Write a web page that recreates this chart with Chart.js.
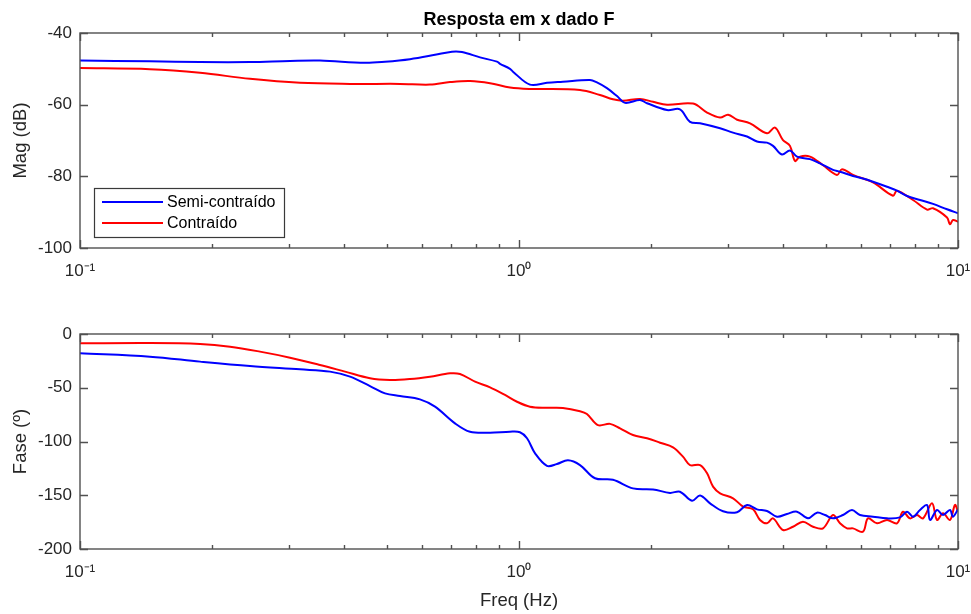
<!DOCTYPE html>
<html>
<head>
<meta charset="utf-8">
<script src="https://cdn.jsdelivr.net/npm/chart.js@4"></script>
<style>
  html, body { margin: 0; padding: 0; background: #fff; }
  #wrap { position: relative; width: 971px; height: 614px; }
  .box { position: absolute; left: 0; width: 971px; }
</style>
</head>
<body>
<div id="wrap">
  <div class="box" style="top:0;height:300px"><canvas id="magChart"></canvas></div>
  <div class="box" style="top:300px;height:314px"><canvas id="phaseChart"></canvas></div>
</div>
<script>
// Labels
const titleText = 'Resposta em x dado F';
const seriesNames = ['Semi-contraído', 'Contraído'];
const decadeLabels = { '-1': '10⁻¹', '0': '10⁰', '1': '10¹' };

// Magnitude, semi-contraído (Hz, dB)
const magSemiFreq = [0.1, 0.1443, 0.1877, 0.2439, 0.3009, 0.3521, 0.4459, 0.4952, 0.5645, 0.6437,
  0.7036, 0.7416, 0.8152, 0.891, 0.9052, 0.9539, 0.969, 1.059, 1.158, 1.259, 1.451, 1.505, 1.586,
  1.672, 1.744, 1.886, 1.957, 2.174, 2.326, 2.452, 2.585, 2.871, 3.073, 3.307, 3.484, 3.672, 3.79,
  3.972, 4.142, 4.297, 4.601, 4.849, 5.191, 5.385, 5.765, 6.075, 6.403, 6.891, 7.262, 7.653, 8.193,
  8.772, 9.44, 10];
const magSemi = [-47.7, -47.9, -48.1, -48.1, -47.8, -47.7, -48.3, -48.0, -47.3, -46.1,
  -45.2, -45.3, -46.8, -48.0, -48.6, -50.0, -50.8, -54.4, -53.9, -53.6, -53.1, -53.8, -55.4,
  -57.6, -59.5, -58.7, -59.6, -61.5, -61.3, -64.8, -65.2, -66.6, -67.8, -68.9, -70.3, -70.6, -71.5,
  -73.9, -72.8, -74.5, -75.2, -76.4, -78.2, -78.7, -79.9, -80.6, -81.5, -82.9, -84.0, -85.5, -86.6,
  -87.7, -89.2, -90.3];

// Magnitude, contraído (Hz, dB)
const magConFreq = [0.1, 0.1443, 0.1877, 0.2439, 0.3171, 0.4122, 0.5357, 0.6269, 0.6963, 0.7735,
  0.8591, 0.9539, 1.059, 1.377, 1.529, 1.637, 1.725, 1.886, 2.02, 2.174, 2.491, 2.682, 2.871, 2.994,
  3.139, 3.36, 3.672, 3.83, 3.993, 4.142, 4.252, 4.365, 4.601, 4.926, 5.301, 5.442, 5.765, 6.403,
  7.111, 7.262, 7.898, 8.5, 8.772, 9.44, 9.589, 9.741, 10];
const magCon = [-49.8, -50.1, -51.1, -52.8, -53.9, -54.2, -54.2, -54.4, -53.7, -53.4,
  -54.0, -55.2, -55.6, -55.9, -57.3, -58.5, -58.9, -58.4, -59.2, -60.0, -59.7, -62.2, -63.6, -62.8,
  -64.2, -65.2, -68.0, -66.4, -69.9, -71.5, -75.7, -74.5, -74.5, -76.9, -79.6, -78.0, -79.6, -81.7,
  -85.4, -84.0, -86.6, -89.3, -88.9, -91.5, -93.4, -92.2, -92.7];

// Phase, semi-contraído (Hz, degrees)
const phaseSemiFreq = [0.1, 0.1443, 0.1877, 0.2439, 0.3171, 0.3711, 0.4122, 0.4577, 0.4952, 0.5357,
  0.5949, 0.6437, 0.7148, 0.7735, 0.8591, 0.9539, 1.005, 1.043, 1.088, 1.158, 1.22, 1.293, 1.377,
  1.49, 1.637, 1.818, 2.02, 2.208, 2.326, 2.478, 2.585, 2.724, 2.916, 3.139, 3.307, 3.484, 3.672,
  3.87, 4.077, 4.297, 4.553, 4.773, 4.978, 5.191, 5.47, 5.735, 5.981, 6.403, 6.891, 7.377, 7.653,
  7.898, 8.193, 8.5, 8.635, 8.958, 9.244, 9.589, 9.741, 10];
const phaseSemi = [-18.0, -21.1, -25.7, -29.8, -32.9, -35.0, -39.7, -48.4, -55.2, -57.7,
  -60.8, -67.6, -83.1, -90.9, -91.8, -90.9, -91.4, -97.0, -111.0, -122.6, -120.9, -117.5, -121.9,
  -134.2, -135.6, -143.6, -144.6, -147.8, -146.7, -155.1, -150.2, -157.5, -164.9, -165.8, -159.1, -163.1, -164.7,
  -169.9, -167.4, -165.3, -171.5, -166.2, -168.4, -171.5, -168.4, -163.7, -168.4, -169.9, -171.5, -170.6, -165.3,
  -169.9, -163.7, -159.1, -173.0, -163.7, -168.4, -163.7, -169.9, -163.1];

// Phase, contraído (Hz, degrees)
const phaseConFreq = [0.1, 0.1443, 0.1877, 0.2197, 0.257, 0.3009, 0.3521, 0.4015, 0.4577, 0.5083,
  0.5645, 0.6269, 0.6963, 0.7338, 0.7943, 0.8591, 0.9292, 0.9896, 1.059, 1.158, 1.259, 1.377, 1.428,
  1.513, 1.612, 1.699, 1.818, 1.957, 2.096, 2.243, 2.363, 2.452, 2.585, 2.682, 2.767, 2.871, 3.073,
  3.239, 3.413, 3.54, 3.672, 3.79, 3.993, 4.208, 4.435, 4.674, 4.926, 5.191, 5.385, 5.586, 5.765,
  6.075, 6.237, 6.539, 6.891, 7.262, 7.494, 7.774, 8.066, 8.323, 8.726, 8.958, 9.244, 9.589, 9.844, 10];
const phaseCon = [-8.7, -8.4, -9.3, -11.8, -16.4, -22.0, -28.8, -35.0, -41.2, -42.8,
  -41.9, -39.7, -36.6, -37.2, -44.3, -49.6, -56.7, -63.0, -67.6, -68.6, -68.8, -71.8, -74.4,
  -84.7, -83.6, -87.7, -94.0, -97.0, -101.1, -105.4, -114.1, -121.9, -121.9, -129.6, -142.0, -148.2, -152.8,
  -160.6, -163.1, -173.0, -176.1, -171.5, -182.3, -179.3, -174.6, -179.3, -180.8, -168.4, -176.1, -180.8, -180.8,
  -183.9, -171.5, -176.1, -173.0, -176.1, -165.3, -171.5, -168.4, -171.5, -157.5, -173.0, -166.8, -173.0, -159.1, -165.3];

// Axis ranges and ticks
const freqRange = [0.1, 10];
const magRange = [-100, -40];
const magStep = 20;
const phaseRange = [-200, 0];
const phaseStep = 50;

const FONT = "'Liberation Sans', Arial, Helvetica, sans-serif";
const TEXT = '#262626';
const AXIS = '#505050';

function toPoints(xs, ys) {
  return xs.map((x, i) => ({ x: x, y: ys[i] }));
}

// MATLAB-like box with inward ticks on all four sides, plus the legend
const matlabAxes = {
  id: 'matlabAxes',
  afterDatasetsDraw(chart, args, opts) {
    const { ctx, chartArea: a, scales: { x, y } } = chart;
    ctx.save();
    ctx.strokeStyle = AXIS;
    ctx.lineWidth = 1.4;
    ctx.beginPath();
    for (let d = 0.1; d < 10; d *= 10) {
      for (let k = 1; k <= 10; k++) {
        const v = d * k;
        if (v < freqRange[0] - 1e-9 || v > freqRange[1] + 1e-9) continue;
        const px = Math.round(x.getPixelForValue(v)) + 0.5;
        const len = (k === 1 || k === 10) ? 8 : 4;
        ctx.moveTo(px, a.bottom); ctx.lineTo(px, a.bottom - len);
        ctx.moveTo(px, a.top); ctx.lineTo(px, a.top + len);
      }
    }
    y.ticks.forEach(t => {
      const py = Math.round(y.getPixelForValue(t.value)) + 0.5;
      ctx.moveTo(a.left, py); ctx.lineTo(a.left + 8, py);
      ctx.moveTo(a.right, py); ctx.lineTo(a.right - 8, py);
    });
    ctx.stroke();
    ctx.strokeRect(a.left, a.top, a.width, a.height);

    if (opts.legend) {
      const bx = a.left + 14, by = a.bottom - 60, bw = 190, bh = 49;
      ctx.fillStyle = '#fff';
      ctx.fillRect(bx, by, bw, bh);
      ctx.strokeStyle = '#3a3a3a';
      ctx.lineWidth = 1.2;
      ctx.strokeRect(bx + 0.5, by + 0.5, bw, bh);
      ctx.font = '16px ' + FONT;
      ctx.textBaseline = 'middle';
      chart.data.datasets.forEach((ds, i) => {
        const ly = by + 14 + i * 21;
        ctx.strokeStyle = ds.borderColor;
        ctx.lineWidth = 2;
        ctx.beginPath();
        ctx.moveTo(bx + 8, ly); ctx.lineTo(bx + 69, ly);
        ctx.stroke();
        ctx.fillStyle = '#000';
        ctx.fillText(ds.label, bx + 73, ly + 1);
      });
    }
    ctx.restore();
  }
};

function renderBode(canvasId, semiF, semiV, conF, conV, yRange, yStep, yLabel, opts) {
  const ctx = document.getElementById(canvasId).getContext('2d');
  new Chart(ctx, {
    type: 'line',
    data: {
      datasets: [
        { label: seriesNames[0], data: toPoints(semiF, semiV), borderColor: '#0000ff' },
        { label: seriesNames[1], data: toPoints(conF, conV), borderColor: '#ff0000' }
      ]
    },
    options: {
      responsive: true,
      maintainAspectRatio: false,
      animation: false,
      layout: { padding: { top: opts.padTop, right: 13, left: 0, bottom: 0 } },
      elements: {
        line: { borderWidth: 2, tension: 0.35, fill: false },
        point: { radius: 0 }
      },
      plugins: {
        legend: { display: false },
        tooltip: { enabled: false },
        title: {
          display: !!opts.title,
          text: opts.title || '',
          fullSize: false,
          color: '#000',
          font: { family: FONT, size: 18, weight: 'bold', lineHeight: 1.2 },
          padding: { top: 9, bottom: 2.4 }
        },
        matlabAxes: { legend: !!opts.legend }
      },
      scales: {
        x: {
          type: 'logarithmic',
          min: freqRange[0],
          max: freqRange[1],
          grid: { display: false, drawTicks: false },
          border: { display: false },
          afterFit: s => {
            s.height = opts.xHeight;
            s.paddingLeft = 0;
            s.paddingRight = 0;
          },
          ticks: {
            autoSkip: false,
            maxRotation: 0,
            padding: 13,
            color: TEXT,
            font: { family: FONT, size: 17 },
            callback: v => {
              const e = Math.log10(v);
              return Math.abs(e - Math.round(e)) < 1e-6 ? decadeLabels[String(Math.round(e))] : '';
            }
          },
          title: {
            display: !!opts.xLabel,
            text: opts.xLabel || '',
            color: TEXT,
            font: { family: FONT, size: 18.5 },
            padding: { top: 0, bottom: 2 }
          }
        },
        y: {
          min: yRange[0],
          max: yRange[1],
          grid: { display: false, drawTicks: false },
          border: { display: false },
          afterFit: s => { s.width = 80; },
          ticks: {
            stepSize: yStep,
            padding: 8,
            color: TEXT,
            font: { family: FONT, size: 17 }
          },
          title: {
            display: true,
            text: yLabel,
            color: TEXT,
            font: { family: FONT, size: 18.5 },
            padding: { top: 10, bottom: 0 }
          }
        }
      }
    },
    plugins: [matlabAxes]
  });
}

renderBode('magChart', magSemiFreq, magSemi, magConFreq, magCon, magRange, magStep, 'Mag (dB)',
  { title: titleText, legend: true, padTop: 0, xHeight: 52 });
renderBode('phaseChart', phaseSemiFreq, phaseSemi, phaseConFreq, phaseCon, phaseRange, phaseStep, 'Fase (º)',
  { padTop: 34, xHeight: 65, xLabel: 'Freq (Hz)' });
</script>
</body>
</html>
